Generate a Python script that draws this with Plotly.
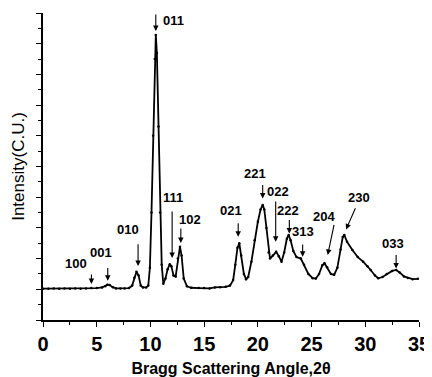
import plotly.graph_objects as go

# Diffraction pattern (2theta, intensity in chart units)
two_theta = [0, 0.5, 1, 1.5, 2, 2.5, 3, 3.5, 4, 4.5, 5, 5.5, 5.8, 6.0, 6.2, 6.5, 6.8, 7.2, 7.6, 8.0,
             8.3, 8.5, 8.7, 8.9, 9.1, 9.3, 9.6, 9.8, 9.95, 10.1, 10.25, 10.4, 10.5, 10.6, 10.75, 10.9,
             11.05, 11.2, 11.4, 11.6, 11.8, 11.95, 12.15, 12.35, 12.55, 12.75, 12.9, 13.1, 13.4, 13.8,
             14.5, 15, 15.5, 16, 16.5, 17, 17.4, 17.7, 17.9, 18.1, 18.27, 18.45, 18.7, 18.9, 19.1, 19.4,
             19.7, 20.0, 20.25, 20.45, 20.6, 20.8, 21.0, 21.13, 21.4, 21.7, 21.95, 22.2, 22.45, 22.7,
             22.87, 23.05, 23.3, 23.6, 24.0, 24.3, 24.7, 25.1, 25.4, 25.7, 26.0, 26.2, 26.45, 26.8, 27.1,
             27.4, 27.7, 27.9, 28.05, 28.3, 28.8, 29.3, 29.8, 30.2, 30.5, 30.9, 31.2, 31.6, 32.0, 32.5,
             32.87, 33.2, 33.6, 33.96, 34.4, 34.9]
intensity = [1.02, 1.02, 1.03, 1.02, 1.03, 1.02, 1.03, 1.02, 1.03, 1.04, 1.04, 1.06, 1.10, 1.15, 1.14,
             1.07, 1.03, 1.03, 1.03, 1.04, 1.12, 1.38, 1.57, 1.45, 1.12, 1.06, 1.06, 1.12, 1.7, 3.5, 6.0,
             8.5, 9.28, 8.7, 6.3, 3.5, 1.8, 1.18, 1.35, 1.65, 1.82, 1.75, 1.45, 1.42, 2.0, 2.39, 2.1, 1.35,
             1.1, 1.05, 1.04, 1.04, 1.03, 1.06, 1.07, 1.08, 1.12, 1.3, 1.8, 2.35, 2.5, 2.1, 1.5, 1.33, 1.4,
             1.9, 2.6, 3.2, 3.6, 3.75, 3.6, 3.0, 2.2, 2.0, 2.1, 2.22, 2.08, 1.9, 2.2, 2.65, 2.77, 2.6,
             2.25, 2.05, 2.0, 1.8, 1.5, 1.36, 1.35, 1.5, 1.78, 1.85, 1.72, 1.5, 1.47, 1.7, 2.3, 2.7, 2.77,
             2.55, 2.28, 2.05, 1.9, 1.75, 1.63, 1.45, 1.36, 1.4, 1.5, 1.6, 1.63, 1.55, 1.42, 1.37, 1.33,
             1.34]

# Peak labels (Miller indices) with arrow head / tail and label position
peak_labels = ["100", "001", "010", "011", "111", "102", "021", "221", "022", "222", "313", "204", "230", "033"]
head_x = [4.51, 6.03, 8.85, 10.5, 12.02, 12.83, 18.17, 20.45, 21.66, 22.93, 24.17, 26.5, 28.21, 32.87]
head_y = [1.17, 1.28, 1.76, 9.41, 2.02, 2.51, 2.71, 3.96, 2.55, 2.82, 2.06, 2.12, 2.95, 1.68]
tail_x = [4.51, 6.03, 8.85, 10.5, 12.02, 12.83, 18.17, 20.45, 21.66, 22.93, 24.17, 27.12, 29.14, 32.87]
tail_y = [1.53, 1.74, 2.52, 10.0, 3.58, 3.03, 3.2, 4.45, 3.91, 3.31, 2.51, 3.15, 3.69, 2.17]
label_x = [3.11, 5.44, 7.87, 12.12, 12.12, 13.67, 17.49, 19.73, 21.9, 22.83, 24.23, 26.19, 29.45, 32.56]
label_y = [1.85, 2.19, 2.95, 9.74, 4.0, 3.26, 3.56, 4.78, 4.18, 3.58, 2.88, 3.36, 4.0, 2.5]

x_ticks = [0, 5, 10, 15, 20, 25, 30, 35]

fig = go.Figure()
fig.add_trace(go.Scatter(
    x=two_theta, y=intensity, mode="lines+markers",
    line=dict(color="black", width=1.8),
    marker=dict(color="black", size=2.5),
    showlegend=False, cliponaxis=False,
))

annotations = []
for lab, hx, hy, tx, ty, lx, ly in zip(peak_labels, head_x, head_y, tail_x, tail_y, label_x, label_y):
    annotations.append(dict(
        x=hx, y=hy, ax=tx, ay=ty, xref="x", yref="y", axref="x", ayref="y",
        text="", showarrow=True, arrowhead=2, arrowsize=1, arrowwidth=1.1,
        arrowcolor="black", standoff=0, startstandoff=0,
    ))
    annotations.append(dict(
        x=lx, y=ly, xref="x", yref="y", text=lab, showarrow=False,
        font=dict(family="Liberation Sans", size=13, color="black", weight="bold"),
    ))

# The page body has an 8px default margin, so the figure is drawn 8px in from the corner.
fig.update_layout(
    width=424, height=369,
    margin=dict(l=35, r=13, t=5, b=57),
    paper_bgcolor="white", plot_bgcolor="white",
    font=dict(family="Liberation Sans", color="black"),
    annotations=annotations,
    xaxis=dict(
        range=[0, 35], tickvals=x_ticks, ticktext=[str(v) for v in x_ticks],
        automargin=False,
        showline=True, linecolor="black", linewidth=1.5,
        ticks="outside", ticklen=5, tickwidth=1.2, tickcolor="black",
        minor=dict(dtick=2.5, ticks="outside", ticklen=3, tickcolor="black", tickwidth=1.2),
        showgrid=False, zeroline=False,
        tickfont=dict(family="Liberation Sans", size=20, color="black", weight="bold"),
        title=dict(text="Bragg Scattering Angle,2θ", standoff=13,
                   font=dict(family="Liberation Sans", size=16, color="black", weight="bold")),
    ),
    yaxis=dict(
        range=[0, 10], dtick=1, showticklabels=False, automargin=False,
        showline=True, linecolor="black", linewidth=1.5,
        ticks="outside", ticklen=5, tickwidth=1.2, tickcolor="black",
        minor=dict(dtick=0.5, ticks="outside", ticklen=3, tickcolor="black", tickwidth=1.2),
        showgrid=False, zeroline=False,
        title=dict(text="Intensity(C.U.)", standoff=7,
                   font=dict(family="Liberation Sans", size=17, color="black")),
    ),
)

fig.write_html("out.html")
